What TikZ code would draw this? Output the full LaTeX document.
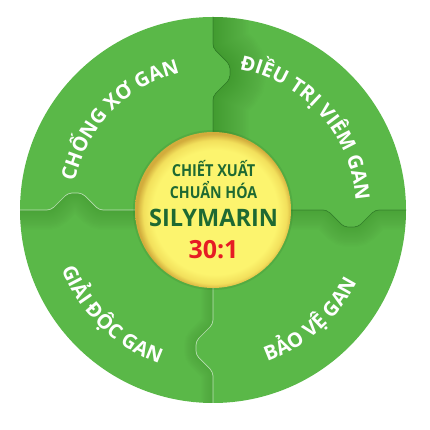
\documentclass[tikz,border=0pt]{standalone}
\usepackage{fontspec}
\setmainfont{Open Sans}
\usetikzlibrary{decorations.text}
\definecolor{gbase}{RGB}{90,184,72}
\definecolor{gshadow}{RGB}{30,90,30}
\definecolor{yin}{RGB}{252,244,110}
\definecolor{ymid}{RGB}{242,224,92}
\definecolor{yrim}{RGB}{210,172,60}
\definecolor{tgreen}{RGB}{30,105,50}
\definecolor{tred}{RGB}{230,28,36}
\pgfdeclareradialshading{yelshade}{\pgfpoint{1.2bp}{-1.2bp}}{color(0bp)=(yin); color(20bp)=(yin); color(23bp)=(ymid); color(25bp)=(yrim); color(50bp)=(yrim)}
\newcommand\arcfont{\fontsize{20}{20}\selectfont\bfseries}
\def\toppath{(213,220) -- (213,334) -- (230,351) -- (230,365) -- (213,382) -- (213,430)}
\def\leftpath{(213,220) -- (99,220) -- (82,237) -- (68,237) -- (51,220) -- (0,220)}
\def\rightpath{(213,220) -- (327,220) -- (344,203) -- (358,203) -- (375,220) -- (430,220)}
\def\botpath{(213,220) -- (213,106) -- (196,89) -- (196,75) -- (213,58) -- (213,0)}
\tikzset{
  divline/.style={line width=0.7pt, draw=gshadow, draw opacity=0.5, rounded corners=4pt},
  hiline/.style={line width=0.7pt, draw=white, draw opacity=0.6, rounded corners=4pt},
  arctext/.style={decorate, decoration={text along path, text align=center, text color=white, text={|\arcfont|#1}}}
}
\begin{document}
\begin{tikzpicture}[x=1pt,y=1pt]
\useasboundingbox (0,0) rectangle (430,430);
\coordinate (C) at (213,220);
\fill[gbase] (C) circle[radius=193];
\begin{scope}
  \clip (C) circle[radius=193];
  \begin{scope}
    \clip[rounded corners=4pt] \toppath -- (430,430) -- (430,220) -- cycle;
    \foreach \i in {1,...,24}
      \draw[line width=\i*3pt, gshadow, opacity=0.011, rounded corners=4pt] \toppath;
  \end{scope}
  \begin{scope}
    \clip[rounded corners=4pt] \rightpath -- (430,0) -- (213,0) -- cycle;
    \foreach \i in {1,...,16}
      \draw[line width=\i*2.5pt, gshadow, opacity=0.011, rounded corners=4pt] \rightpath;
  \end{scope}
  \begin{scope}
    \clip[rounded corners=4pt] \botpath -- (0,0) -- (0,220) -- cycle;
    \foreach \i in {1,...,12}
      \draw[line width=\i*2pt, gshadow, opacity=0.011, rounded corners=4pt] \botpath;
  \end{scope}
  \begin{scope}
    \clip[rounded corners=4pt] \leftpath -- (0,0) -- (213,0) -- cycle;
    \foreach \i in {1,...,16}
      \draw[line width=\i*2.5pt, gshadow, opacity=0.011, rounded corners=4pt] \leftpath;
  \end{scope}
  \draw[divline] \toppath;
  \draw[divline] \rightpath;
  \draw[hiline] \leftpath;
  \draw[hiline] \botpath;
\end{scope}
% centre disc
\fill[gshadow, opacity=0.12] (C) circle[radius=80];
\shade[shading=yelshade] (C) circle[radius=78];
\node[anchor=base, text=tgreen, font=\fontsize{16.5}{16.5}\selectfont\bfseries] (l1) at (213.5,253) {\scalebox{0.88}[1]{CHIẾT XUẤT}};
\node[anchor=base, text=tgreen, font=\fontsize{16.5}{16.5}\selectfont\bfseries] (l2) at (213.5,231) {\scalebox{0.86}[1]{CHUẨN HÓA}};
\node[anchor=base, text=tgreen, font=\fontsize{24}{24}\selectfont\bfseries] (l3) at (213.5,203) {\scalebox{0.98}[1]{SILYMARIN}};
\node[anchor=base, text=tred, font=\fontsize{25}{25}\selectfont\bfseries] (l4) at (213.5,171) {30:1};
% curved labels
\path[arctext={CHỐNG XƠ GAN}] (C) ++(195:141) arc[start angle=195, end angle=77, radius=141];
\path[arctext={ĐIỀU TRỊ VIÊM GAN}] (C) ++(105:143) arc[start angle=105, end angle=-22, radius=143];
\path[arctext={GIẢI ĐỘC GAN}] (C) ++(166:162.5) arc[start angle=166, end angle=286, radius=162.5];
\path[arctext={BẢO VỆ GAN}] (C) ++(252:161) arc[start angle=252, end angle=371, radius=161];
\end{tikzpicture}
\end{document}
